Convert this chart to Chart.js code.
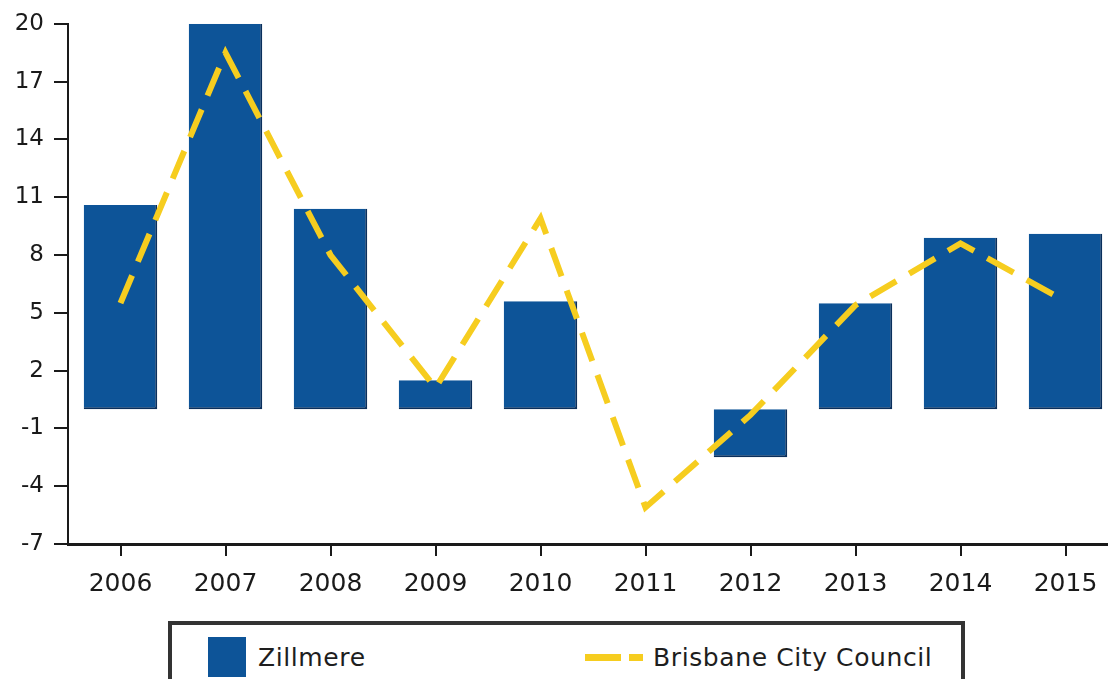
<!DOCTYPE html>
<html>
<head>
<meta charset="utf-8">
<script src="https://cdn.jsdelivr.net/npm/chart.js@4/dist/chart.umd.min.js"></script>
<style>
  html, body { margin: 0; padding: 0; background: #fff; overflow: hidden; }
  #wrap { position: relative; width: 1108px; height: 679px; overflow: hidden; }
  #chartBox { position: absolute; left: 0; top: 0; width: 1118px; height: 612px; }
  #legend {
    position: absolute; left: 168px; top: 621px; width: 789px; height: 80px;
    border: 4px solid #333; background: #fff;
    font-family: "DejaVu Sans", sans-serif; font-size: 25px; letter-spacing: 0.6px; color: #1e1e1e;
  }
  .item { position: absolute; top: 12px; display: flex; align-items: center; height: 40px; }
  .swatch { width: 38px; height: 40px; margin-right: 12px; }
  .dash { display: flex; align-items: center; margin-right: 10px; }
  .dash span { display: inline-block; height: 7px; }
</style>
</head>
<body>
<div id="wrap">
  <div id="chartBox"><canvas id="chart"></canvas></div>
  <div id="legend"></div>
</div>
<script>
// --- DATA ---
const years = ['2006', '2007', '2008', '2009', '2010', '2011', '2012', '2013', '2014', '2015'];
const zillmere = [10.6, 20.0, 10.4, 1.5, 5.6, null, -2.5, 5.5, 8.9, 9.1];
const brisbane = [5.5, 18.5, 8.0, 1.1, 9.9, -5.1, -0.3, 5.4, 8.6, 5.6];
const yTicks = [-7, -4, -1, 2, 5, 8, 11, 14, 17, 20];

const barColor = '#0d5498';
const lineColor = '#f6cd1f';
const inkColor = '#1a1a1a';

document.addEventListener('DOMContentLoaded', () => {
    const ctx = document.getElementById('chart').getContext('2d');
    const chart = new Chart(ctx, {
        type: 'bar',
        data: {
            labels: years,
            datasets: [{
                label: 'Brisbane City Council',
                type: 'line',
                data: brisbane,
                borderColor: lineColor,
                borderWidth: 6,
                borderDash: [30, 15],
                pointRadius: 0,
                tension: 0,
                fill: false,
                order: 0
            }, {
                label: 'Zillmere',
                data: zillmere,
                backgroundColor: barColor,
                borderColor: '#0a2f5c',
                borderWidth: { right: 2, bottom: 2, top: 0, left: 0 },
                borderSkipped: false,
                categoryPercentage: 1,
                barPercentage: 0.7,
                order: 1
            }]
        },
        options: {
            responsive: true,
            maintainAspectRatio: false,
            animation: false,
            layout: { padding: { top: 21, right: 0, left: 0, bottom: 0 } },
            plugins: { legend: { display: false }, tooltip: { enabled: false } },
            scales: {
                x: {
                    offset: true,
                    grid: {
                        offset: false, drawOnChartArea: false, drawTicks: true,
                        tickLength: 12, tickColor: inkColor, lineWidth: 2
                    },
                    border: { display: true, color: inkColor, width: 3 },
                    ticks: { color: inkColor, font: { family: 'DejaVu Sans', size: 25 }, padding: 13, maxRotation: 0 }
                },
                y: {
                    min: yTicks[0],
                    max: yTicks[yTicks.length - 1],
                    afterBuildTicks: (scale) => { scale.ticks = yTicks.map(v => ({ value: v })); },
                    afterFit: (scale) => { scale.width = 68; },
                    grid: {
                        drawOnChartArea: false, drawTicks: true,
                        tickLength: 14, tickColor: inkColor, lineWidth: 2
                    },
                    border: { display: true, color: inkColor, width: 2 },
                    ticks: { color: inkColor, font: { family: 'DejaVu Sans', size: 23 }, padding: 10 }
                }
            }
        }
    });

    // --- HTML LEGEND ---
    const legend = document.getElementById('legend');
    const barDs = chart.data.datasets[1];
    const lineDs = chart.data.datasets[0];
    legend.innerHTML =
        '<div class="item" style="left:36px"><div class="swatch" style="background:' + barColor + '"></div>' +
        '<span>' + barDs.label + '</span></div>' +
        '<div class="item" style="left:413px"><div class="dash">' +
        '<span style="width:36px;background:' + lineColor + '"></span>' +
        '<span style="width:8px"></span>' +
        '<span style="width:14px;background:' + lineColor + '"></span></div>' +
        '<span>' + lineDs.label + '</span></div>';
});
</script>
</body>
</html>
